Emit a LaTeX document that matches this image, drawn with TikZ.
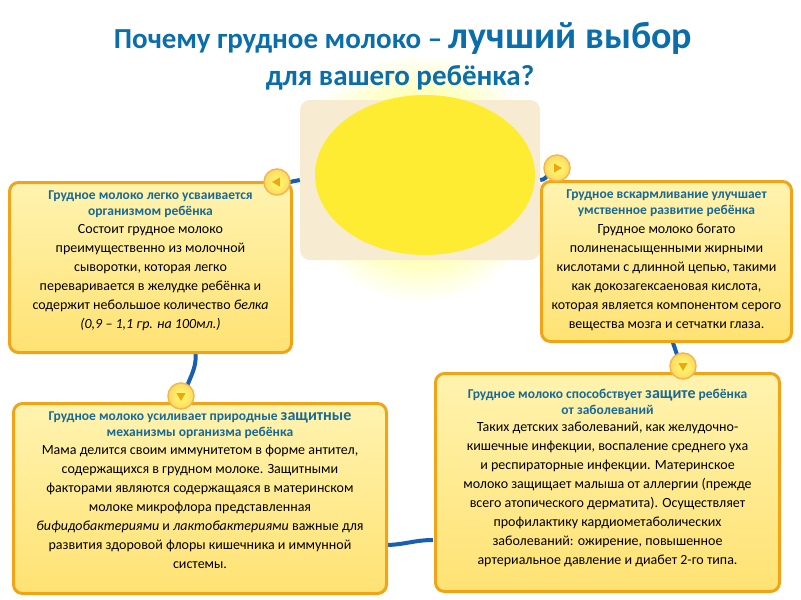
\documentclass[tikz,border=0pt]{standalone}
\usepackage{fontspec}
\setmainfont{Carlito}
\usetikzlibrary{positioning,shadings}
\definecolor{titleblue}{RGB}{10,110,170}
\definecolor{headblue}{RGB}{25,105,150}
\definecolor{linkblue}{RGB}{25,95,175}
\definecolor{cardedge}{RGB}{240,165,25}
\definecolor{cardtop}{RGB}{255,243,175}
\definecolor{cardbot}{RGB}{255,226,115}
\tikzset{
  card/.style={draw=cardedge, line width=3pt, rounded corners=9pt, top color=cardtop, bottom color=cardbot, anchor=north west},
  head/.style={text=headblue, font=\bfseries\fontsize{13.5}{16}\selectfont, align=center},
  body/.style={font=\fontsize{14}{19}\selectfont, align=center},
  button/.style={circle, draw=cardedge!80!white, line width=1.5pt, inner color=yellow!60!white, outer color=cardbot!90!orange, minimum size=26pt},
  link/.style={draw=linkblue, line width=4pt},
}
\begin{document}
\begin{tikzpicture}[x=1pt, y=-1pt]
  \useasboundingbox (0,0) rectangle (801,600);

  % picture in the middle
  \shade[inner color=yellow!80!white, outer color=white] (420,178) circle (125);
  \node[rounded corners=10pt, fill=cardtop!70!brown!40!white, minimum width=240pt, minimum height=160pt] (photo) at (420,180) {};
  \fill[yellow!90!orange!80] (425,175) ellipse (110 and 80);

  % title
  \node[text=titleblue, font=\bfseries\fontsize{29}{34}\selectfont] (title1) at (403,38)
    {Почему грудное молоко -- {\fontsize{38}{40}\selectfont лучший выбор}};
  \node[text=titleblue, font=\bfseries\fontsize{29}{34}\selectfont] (title2) at (400,78) {для вашего ребёнка?};

  % links
  \draw[link] (photo.west) -- (285,183);
  \draw[link] (photo.east) to[out=0, in=180] (557,168);
  \draw[link] (195,350) to[out=-80, in=80] (183,400);
  \draw[link] (385,545) to[out=0, in=180] (433,540);
  \draw[link] (672,340) -- (683,372);

  % cards
  \node[card, minimum width=282pt, minimum height=170pt] (card1) at (8,181) {};
  \node[card, minimum width=250pt, minimum height=160pt] (card2) at (540,180) {};
  \node[card, minimum width=373pt, minimum height=190pt] (card3) at (12,402) {};
  \node[card, minimum width=344pt, minimum height=218pt] (card4) at (434,372) {};

  % buttons
  \foreach \n/\x/\y/\r in {b1/277/182/180, b2/557/168/0, b3/181/396/90, b4/683/366/90}{
    \node[button] (\n) at (\x,\y) {};
    \fill[cardedge] (\n.center) ++(\r:5) -- ++(\r+150:9) -- ++(\r-90:9) -- cycle;
  }

  % card texts
  \node[head, below=6pt of card1.north] (h1) {Грудное молоко легко усваивается\\ организмом ребёнка};
  \node[body, below=0pt of h1] (t1) {Состоит грудное молоко\\ преимущественно из молочной\\ сыворотки, которая легко\\ переваривается в желудке ребёнка и\\ содержит небольшое количество \textit{белка}\\ \textit{(0,9 -- 1,1 гр. на 100мл.)}};

  \node[head, below=6pt of card2.north] (h2) {Грудное вскармливание улучшает\\ умственное развитие ребёнка};
  \node[body, below=0pt of h2] (t2) {Грудное молоко богато\\ полиненасыщенными жирными\\ кислотами с длинной цепью, такими\\ как докозагексаеновая кислота,\\ которая является компонентом серого\\ вещества мозга и сетчатки глаза.};

  \node[head, below=6pt of card3.north] (h3) {Грудное молоко усиливает природные {\fontsize{16}{18}\selectfont защитные}\\ механизмы организма ребёнка};
  \node[body, below=0pt of h3] (t3) {Мама делится своим иммунитетом в форме антител,\\ содержащихся в грудном молоке. Защитными\\ факторами являются содержащаяся в материнском\\ молоке микрофлора представленная\\ \textit{бифидобактериями} и \textit{лактобактериями} важные для\\ развития здоровой флоры кишечника и иммунной\\ системы.};

  \node[head, below=14pt of card4.north] (h4) {Грудное молоко способствует {\fontsize{16}{18}\selectfont защите} ребёнка\\ от заболеваний};
  \node[body, below=0pt of h4] (t4) {Таких детских заболеваний, как желудочно-\\ кишечные инфекции, воспаление среднего уха\\ и респираторные инфекции. Материнское\\ молоко защищает малыша от аллергии (прежде\\ всего атопического дерматита).  Осуществляет\\ профилактику кардиометаболических\\ заболеваний:  ожирение, повышенное\\ артериальное давление и диабет 2-го типа.};
\end{tikzpicture}
\end{document}
